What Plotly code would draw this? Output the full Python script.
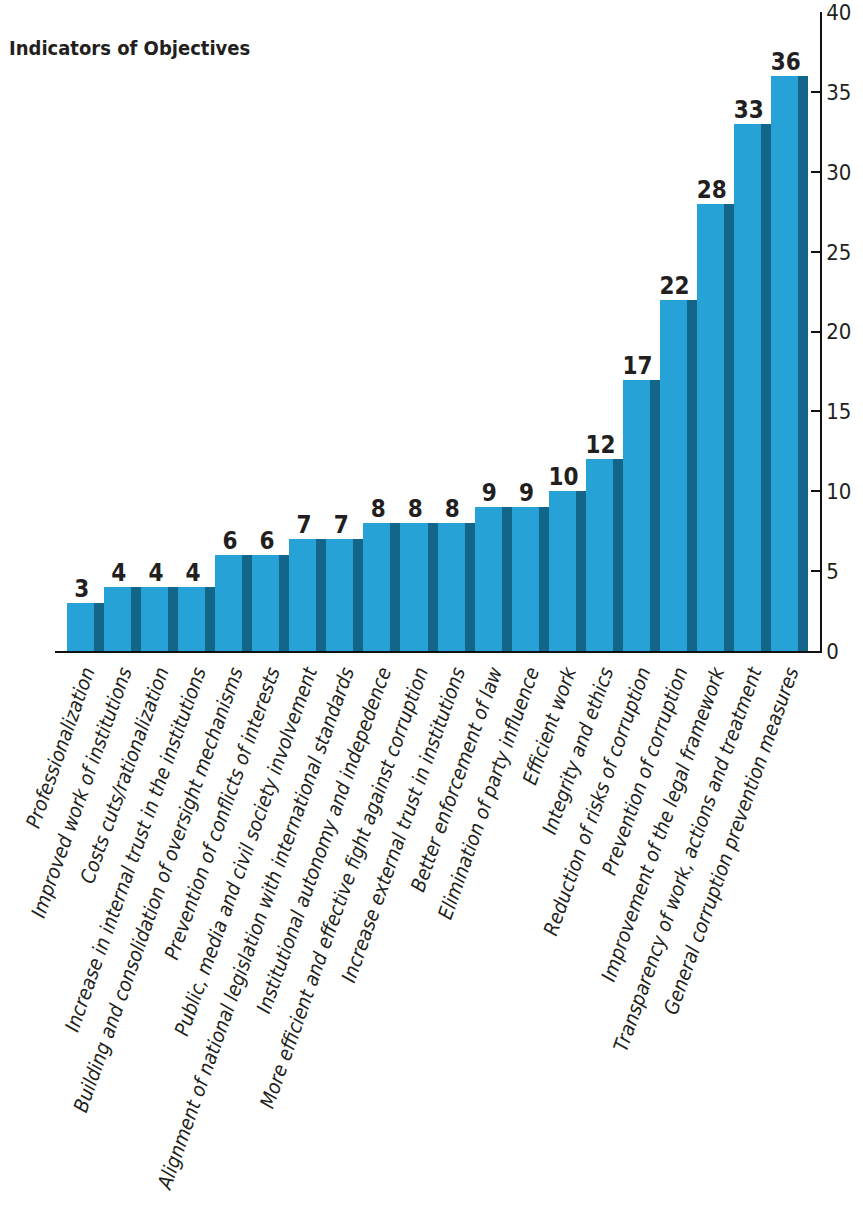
import plotly.graph_objects as go

categories = [
    "Professionalization",
    "Improved work of institutions",
    "Costs cuts/rationalization",
    "Increase in internal trust in the institutions",
    "Building and consolidation of oversight mechanisms",
    "Prevention of conflicts of interests",
    "Public, media and civil society involvement",
    "Alignment of national legislation with international standards",
    "Institutional autonomy and indepedence",
    "More efficient and effective fight against corruption",
    "Increase external trust in institutions",
    "Better enforcement of law",
    "Elimination of party influence",
    "Efficient work",
    "Integrity and ethics",
    "Reduction of risks of corruption",
    "Prevention of corruption",
    "Improvement of the legal framework",
    "Transparency of work, actions and treatment",
    "General corruption prevention measures",
]
values = [3, 4, 4, 4, 6, 6, 7, 7, 8, 8, 8, 9, 9, 10, 12, 17, 22, 28, 33, 36]
y_ticks = [0, 5, 10, 15, 20, 25, 30, 35, 40]

FONT = "Liberation Sans Narrow, DejaVu Sans Condensed, Arial Narrow, sans-serif"
TXT = "#231f20"
FRONT = "#27a2d7"
SIDE = "#136689"

xs = list(range(len(categories)))

fig = go.Figure()
# dark side (full slot)
fig.add_trace(go.Bar(x=xs, y=values, width=[1.0] * len(xs), marker=dict(color=SIDE, line=dict(width=0)),
                     hoverinfo="skip", showlegend=False))
# light front face
fig.add_trace(go.Bar(x=xs, y=values, width=[0.73] * len(xs), offset=-0.5,
                     marker=dict(color=FRONT, line=dict(width=0)), showlegend=False))
# value labels
fig.add_trace(go.Scatter(x=[i - 0.1 for i in xs], y=values, mode="text", text=[str(v) for v in values],
                         textposition="top center",
                         textfont=dict(family=FONT, size=24, color=TXT, weight="bold"),
                         cliponaxis=False, showlegend=False, hoverinfo="skip"))

fig.update_layout(
    width=863, height=1207,
    margin=dict(l=55, r=43, t=12, b=556),
    paper_bgcolor="white", plot_bgcolor="white",
    barmode="overlay", bargap=0,
    title=dict(text="<b>Indicators of Objectives</b>", x=9 / 863, xanchor="left", xref="container",
               y=1 - 48 / 1207, yanchor="middle", yref="container",
               font=dict(family=FONT, size=20, color=TXT)),
    xaxis=dict(range=[-0.5 - 12 / 37, 19.5 + 12 / 37], tickmode="array", tickvals=xs, ticktext=categories,
               tickangle=-70.5, showgrid=False, zeroline=False, showline=True, linecolor="#111", linewidth=2,
               ticks="", automargin=False, ticklabelstandoff=0,
               tickfont=dict(family=FONT, size=20, color=TXT, style="italic")),
    yaxis=dict(range=[0, 40.02], side="right", tickmode="array", tickvals=y_ticks, showgrid=False, zeroline=False,
               showline=True, linecolor="#111", linewidth=1.5, ticks="inside", ticklen=9, tickwidth=1.5,
               tickcolor="#111", automargin=False, tickfont=dict(family=FONT, size=22, color=TXT)),
)

fig.write_html("out.html")
